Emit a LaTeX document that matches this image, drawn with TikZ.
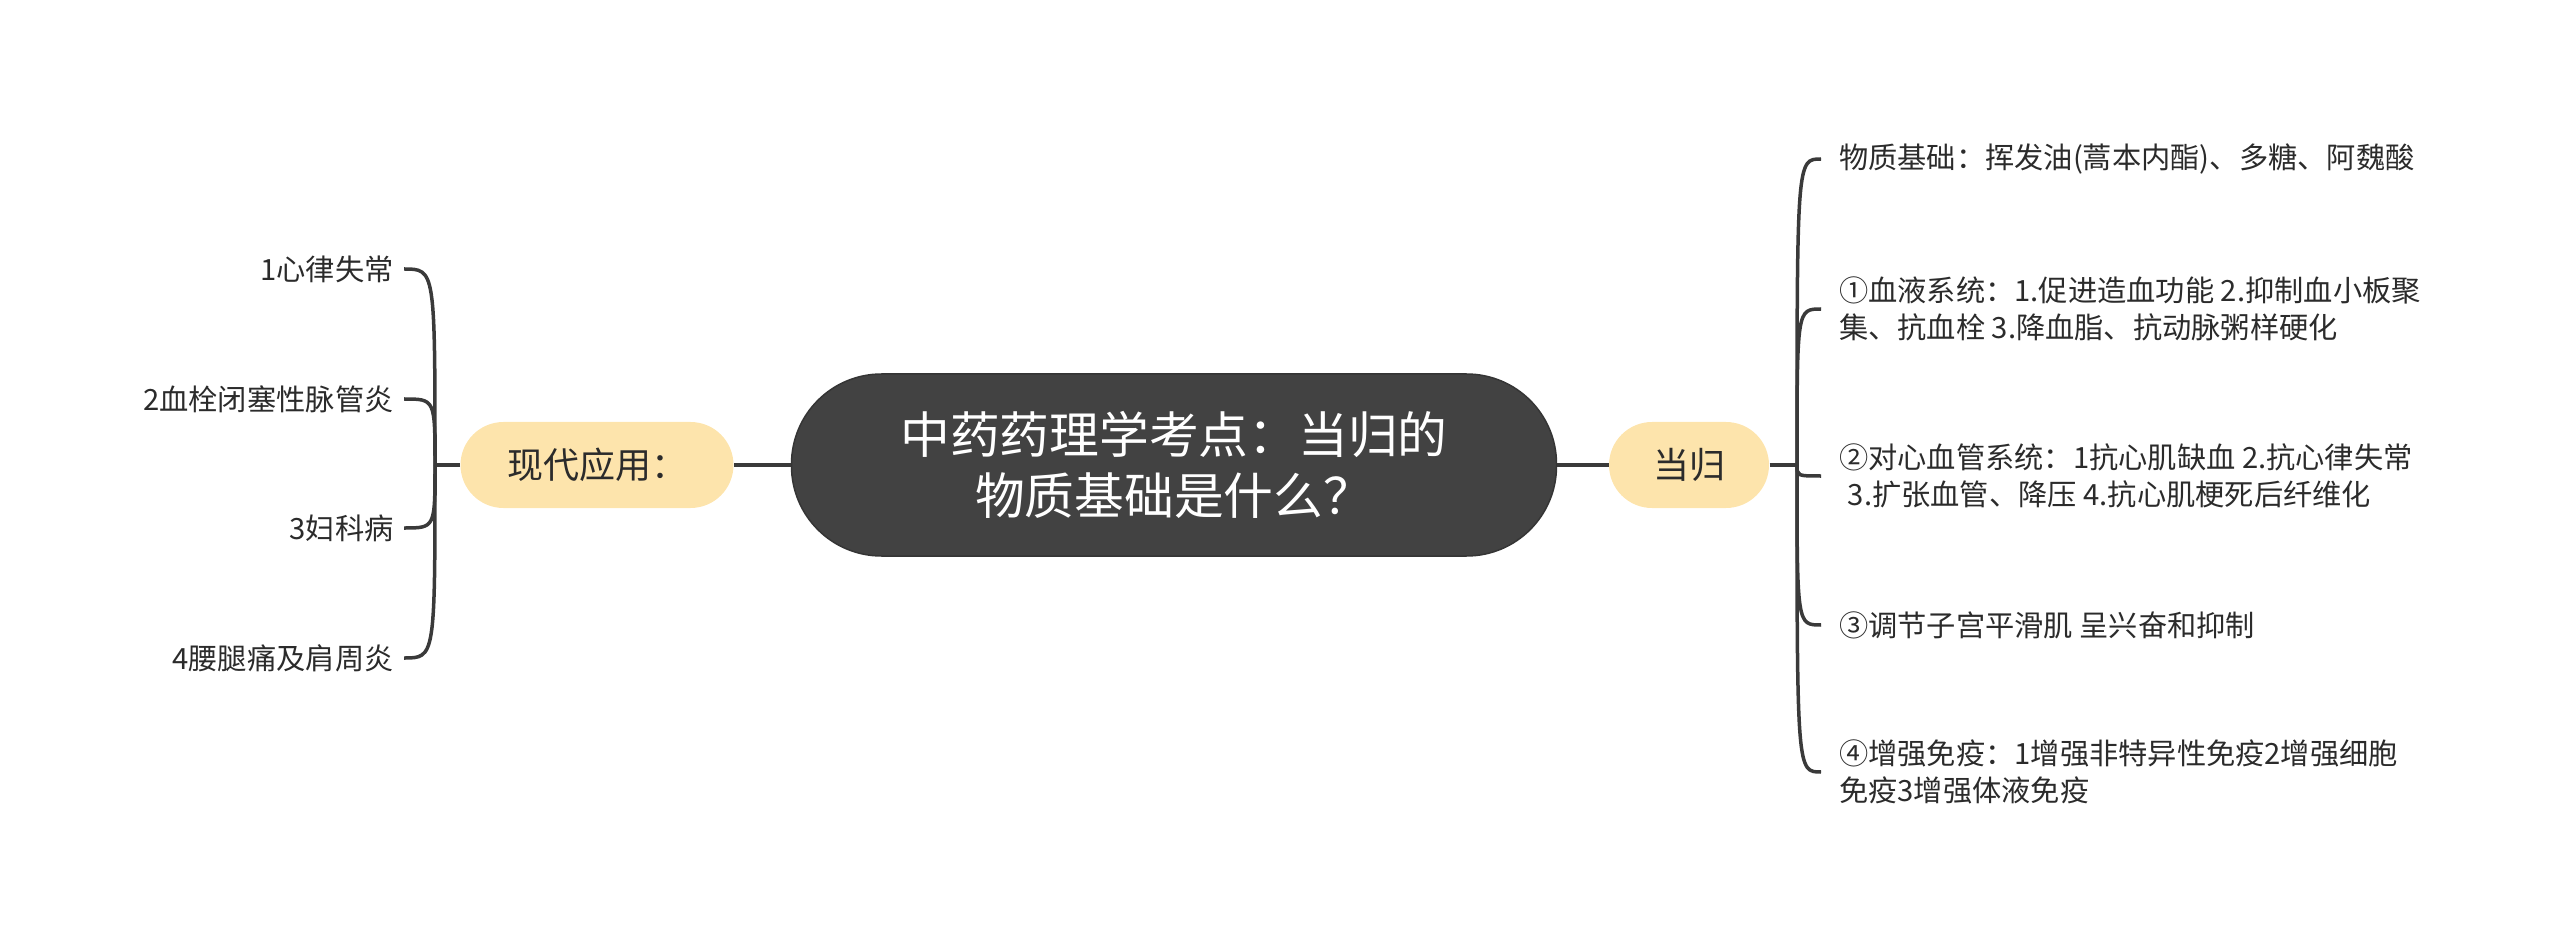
\documentclass[tikz,border=0pt]{standalone}
\usepackage{fontspec}
\setmainfont{Noto Sans CJK SC}
\usepackage{tikz}

\definecolor{rootgray}{HTML}{424242}
\definecolor{pillyellow}{HTML}{FDE4AC}
\definecolor{linegray}{HTML}{3A3A3A}
\definecolor{leaftext}{HTML}{2B2B2B}

\begin{document}
\begin{tikzpicture}[x=0.4pt, y=-0.4pt,
    root/.style={fill=rootgray, draw=rootgray!80!black, line width=0.6pt,
      rounded corners=36pt, minimum width=306pt, minimum height=72.8pt,
      text=white, align=center, font=\fontsize{19.9}{24.3}\selectfont},
    pill/.style={fill=pillyellow, rounded corners=17.2pt, minimum height=34.4pt,
      text=leaftext, font=\fontsize{14.4}{17}\selectfont},
    leafl/.style={anchor=east, inner xsep=4pt, inner ysep=0pt, align=right,
      text=leaftext, font=\fontsize{11.7}{14.8}\selectfont},
    leafr/.style={anchor=west, inner xsep=7pt, inner ysep=0pt, align=left,
      text=leaftext, font=\fontsize{11.7}{14.8}\selectfont},
    link/.style={draw=linegray, line width=1.4pt}
  ]
      \useasboundingbox (0, 0) rectangle (2560, 945);

      % centre and the two main branches
      \node [root] (root) at (1174, 465) {中药药理学考点：当归的\\物质基础是什么？};
      \node [pill, minimum width=109.2pt] (yong) at (597, 465) {现代应用：};
      \node [pill, minimum width=64pt] (dg) at (1689, 465) {当归};

      \coordinate (jl) at (435, 465);
      \coordinate (jr) at (1797, 465);

      % left leaves
      \node [leafl] (l1) at (404, 269) {1心律失常};
      \node [leafl] (l2) at (404, 399) {2血栓闭塞性脉管炎};
      \node [leafl] (l3) at (404, 528) {3妇科病};
      \node [leafl] (l4) at (404, 658) {4腰腿痛及肩周炎};

      % right leaves
      \node [leafr] (r1) at (1821, 159) {物质基础：挥发油(蒿本内酯)、多糖、阿魏酸};
      \node [leafr] (r2) at (1821, 309) {①血液系统：1.促进造血功能 2.抑制血小板聚\\集、抗血栓 3.降血脂、抗动脉粥样硬化};
      \node [leafr] (r3) at (1821, 476) {②对心血管系统：1抗心肌缺血 2.抗心律失常\\\hspace{0.3em}3.扩张血管、降压 4.抗心肌梗死后纤维化};
      \node [leafr] (r4) at (1821, 625) {③调节子宫平滑肌 呈兴奋和抑制};
      \node [leafr] (r5) at (1821, 772) {④增强免疫：1增强非特异性免疫2增强细胞\\免疫3增强体液免疫};

      \draw [link] (root) -- (yong);
      \draw [link] (root) -- (dg);
      \draw [link] (yong.west) -- (jl);
      \draw [link] (dg.east) -- (jr);

      \foreach \n in {l1, l2, l3, l4}
        \draw [link] (jl) .. controls (jl |- \n.east) .. (\n.east);
      \foreach \n in {r1, r2, r3, r4, r5}
        \draw [link] (jr) .. controls (jr |- \n.west) .. (\n.west);

\end{tikzpicture}
\end{document}
